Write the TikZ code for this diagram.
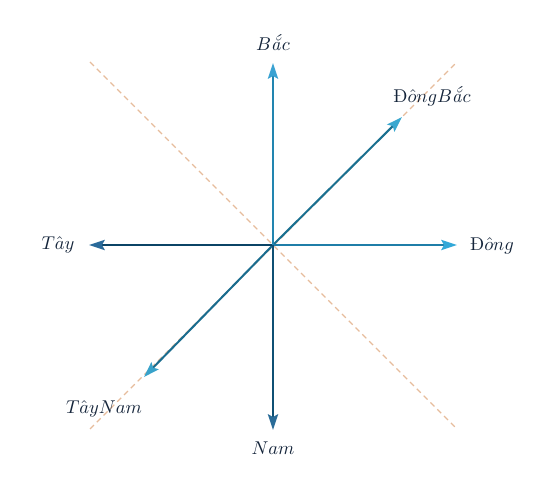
\documentclass[tikz,border=0pt]{standalone}
\usetikzlibrary{arrows.meta}
\definecolor{dashc}{HTML}{E6BC9C}
\definecolor{txtc}{HTML}{14243A}
\definecolor{cN}{HTML}{2285B0}\definecolor{tN}{HTML}{3AA2D2}
\definecolor{cE}{HTML}{1F7EA8}\definecolor{tE}{HTML}{32A8D8}
\definecolor{cW}{HTML}{0B4466}\definecolor{tW}{HTML}{2A6A9A}
\definecolor{cS}{HTML}{0F5074}\definecolor{tS}{HTML}{2A6C98}
\definecolor{cNE}{HTML}{1A7090}\definecolor{tNE}{HTML}{3AA8D0}
\definecolor{cSW}{HTML}{1A6C8E}\definecolor{tSW}{HTML}{38A2CA}
\tikzset{
  dir/.style n args={2}{draw=#1, line width=1.1pt,
    -{Stealth[length=8.5pt,width=5.5pt,inset=1.5pt,fill=#2,color=#2]}},
  guide/.style={draw=dashc, line width=0.6pt, dash pattern=on 3pt off 2.2pt},
  lbl/.style={text=txtc, inner sep=0pt, font=\normalsize}
}
\begin{document}
\begin{tikzpicture}[x=0.54pt,y=-0.54pt]
\useasboundingbox (0,0) rectangle (554,478);
% guide lines
\coordinate (g1) at (90,62);
\coordinate (g2) at (457,429);
\coordinate (g3) at (90,429);
\coordinate (g4) at (457,62);
\draw[guide] (g1) -- (g2);
\draw[guide] (g3) -- (g4);
% centre and tips
\coordinate (O) at (273,245);
\coordinate (pN) at (273,63);
\coordinate (pS) at (273,430);
\coordinate (pE) at (457,245);
\coordinate (pW) at (89,245);
\coordinate (pNE) at (402,117);
\coordinate (pSW) at (144,377);
\draw[dir={cNE}{tNE}] (O) -- (pNE);
\draw[dir={cSW}{tSW}] (O) -- (pSW);
\draw[dir={cE}{tE}] (O) -- (pE);
\draw[dir={cW}{tW}] (O) -- (pW);
\draw[dir={cN}{tN}] (O) -- (pN);
\draw[dir={cS}{tS}] (O) -- (pS);
% labels
\node[lbl] (lN) at (273,43) {$B$\textit{ắ}$c$};
\node[lbl] (lS) at (273,448) {$Nam$};
\node[lbl] (lE) at (492,246) {\mbox{Đ}$\hat{o}ng$};
\node[lbl] (lW) at (58,245) {$T\hat{a}y$};
\node[lbl] (lNE) at (432,96) {\mbox{Đ}$\hat{o}ngB$\textit{ắ}$c$};
\node[lbl] (lSW) at (104,409) {$T\hat{a}yNam$};
\end{tikzpicture}
\end{document}
